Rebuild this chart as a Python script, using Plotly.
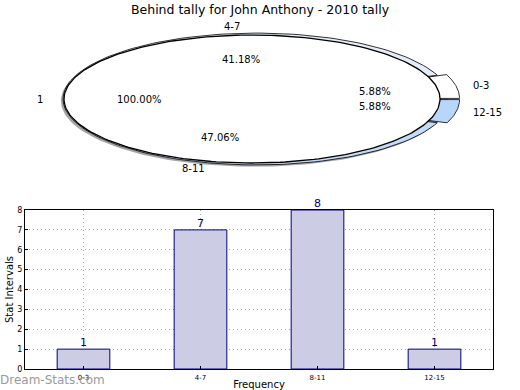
import numpy as np
import plotly.graph_objects as go

# ---------------- data ----------------
title_text = "Behind tally for John Anthony - 2010 tally"
categories = ["0-3", "4-7", "8-11", "12-15"]
frequency = [1, 7, 8, 1]
inner_labels = ["1"]
inner_values = [1]
explode = [0.05, 0.0, 0.0, 0.05]
ring_colors = ["#ffffff", "#e4ecfa", "#c4daf7", "#b8d5fa"]
y_ticks = [0, 1, 2, 3, 4, 5, 6, 7, 8]

# ---------------- pie geometry (pixel frame) ----------------
CX, CY, RX, RY = 252.0, 99.0, 188.0, 64.0
R_OUT = 1.03
RING_DX = 0.025  # outer ring centre nudged right (normalised units)
FONT = "DejaVu Sans, Verdana, sans-serif"


def to_px(u, v):
    return CX + RX * u, CY - RY * v


def wedge(t0, t1, r, dx=0.0, dy=0.0, n=80):
    t = np.linspace(t0, t1, n)
    u = np.concatenate([[dx], dx + r * np.cos(t), [dx]])
    v = np.concatenate([[dy], dy + r * np.sin(t), [dy]])
    return to_px(u, v)


fig = go.Figure()

# shadow
t = np.linspace(0, 2 * np.pi, 200)
sx, sy = to_px(RING_DX + R_OUT * np.cos(t), R_OUT * np.sin(t))
fig.add_trace(go.Scatter(x=sx - 2.2, y=sy + 1.8, mode="lines", fill="toself",
                         fillcolor="rgba(90,90,90,0.55)", line=dict(width=0),
                         xaxis="x2", yaxis="y2", hoverinfo="skip", showlegend=False))

total = float(sum(frequency))
fracs = [f / total for f in frequency]
annotations = []
start = 0.0
for lab, fr, ex, col in zip(categories, fracs, explode, ring_colors):
    t0 = start * 2 * np.pi
    t1 = (start + fr) * 2 * np.pi
    tm = 0.5 * (t0 + t1)
    dx, dy = ex * np.cos(tm), ex * np.sin(tm)
    wx, wy = wedge(t0, t1, R_OUT, dx + RING_DX, dy)
    fig.add_trace(go.Scatter(x=wx, y=wy, mode="lines", fill="toself", fillcolor=col,
                             line=dict(color="black", width=0.8),
                             xaxis="x2", yaxis="y2", hoverinfo="skip", showlegend=False))
    # labels
    lx, ly = to_px(dx + 1.1 * R_OUT * np.cos(tm), dy + 1.1 * R_OUT * np.sin(tm))
    c = np.cos(tm)
    anchor = "center" if abs(c) < 0.35 else ("left" if c > 0 else "right")
    annotations.append(dict(x=lx, y=ly, xref="x2", yref="y2", text=lab, showarrow=False,
                            xanchor=anchor, yanchor="middle",
                            font=dict(family=FONT, size=10, color="black")))
    px_, py_ = to_px(dx + 0.6 * R_OUT * np.cos(tm), dy + 0.6 * R_OUT * np.sin(tm))
    annotations.append(dict(x=px_, y=py_, xref="x2", yref="y2", text=f"{fr*100:.2f}%",
                            showarrow=False, xanchor="center", yanchor="middle",
                            font=dict(family=FONT, size=10, color="black")))
    start += fr

# inner pie
itotal = float(sum(inner_values))
start = 0.0
for lab, val in zip(inner_labels, inner_values):
    fr = val / itotal
    t0 = start * 2 * np.pi
    t1 = (start + fr) * 2 * np.pi
    tt = np.linspace(t0, t1, 240)
    ix, iy = to_px(np.cos(tt), np.sin(tt))
    fig.add_trace(go.Scatter(x=ix, y=iy, mode="lines", fill="toself", fillcolor="white",
                             line=dict(color="black", width=1.3),
                             xaxis="x2", yaxis="y2", hoverinfo="skip", showlegend=False))
    tm = np.pi if fr >= 0.999 else 0.5 * (t0 + t1)
    lx, ly = to_px(1.1 * np.cos(tm), 1.1 * np.sin(tm))
    annotations.append(dict(x=lx, y=ly, xref="x2", yref="y2", text=lab, showarrow=False,
                            xanchor="right", yanchor="middle",
                            font=dict(family=FONT, size=10, color="black")))
    px_, py_ = to_px(0.6 * np.cos(tm), 0.6 * np.sin(tm))
    annotations.append(dict(x=px_, y=py_, xref="x2", yref="y2", text=f"{fr*100:.2f}%",
                            showarrow=False, xanchor="center", yanchor="middle",
                            font=dict(family=FONT, size=10, color="black")))
    start += fr

# ---------------- bar chart ----------------
fig.add_trace(go.Bar(x=categories, y=frequency, width=0.45,
                     marker=dict(color="#ccccE5", line=dict(color="#000080", width=1)),
                     xaxis="x", yaxis="y", showlegend=False, hoverinfo="x+y"))

for cat, v in zip(categories, frequency):
    annotations.append(dict(x=cat, y=v, xref="x", yref="y", text=str(v), showarrow=False,
                            xanchor="center", yanchor="bottom", yshift=-2,
                            font=dict(family=FONT, size=11, color="#000080")))

annotations.append(dict(x=0, y=1 - 380 / 390, xref="paper", yref="paper",
                        text="Dream-Stats.com", showarrow=False,
                        xanchor="left", yanchor="middle", xshift=-2,
                        font=dict(family=FONT, size=12, color="#9a9a9a")))

grid = dict(showgrid=True, gridcolor="#a8a8a8", griddash="1px,3px", gridwidth=1)

fig.update_layout(
    width=520, height=390,
    margin=dict(l=0, r=0, t=0, b=0, autoexpand=False),
    paper_bgcolor="white", plot_bgcolor="white",
    title=dict(text=title_text, x=0.5, xanchor="center", y=1 - 10 / 390, yanchor="middle",
               automargin=False,
               font=dict(family=FONT, size=12.5, color="black")),
    xaxis=dict(domain=[25 / 520, 493 / 520], anchor="y", range=[-0.5, 3.5],
               automargin=False,
               showline=True, mirror=True, linecolor="black", linewidth=1, **grid,
               ticks="inside", ticklen=3, tickcolor="black", ticklabelstandoff=2,
               tickfont=dict(family=FONT, size=7, color="black"),
               title=dict(text="Frequency", font=dict(family=FONT, size=10, color="black"),
                          standoff=15)),
    yaxis=dict(domain=[1 - 369 / 390, 1 - 210 / 390], anchor="x", range=[0, 8],
               automargin=False,
               tickvals=y_ticks, showline=True, mirror=True, linecolor="black", linewidth=1,
               **grid, zeroline=False, ticks="inside", ticklen=3, tickcolor="black",
               tickfont=dict(family=FONT, size=8, color="black"),
               title=dict(text="Stat Intervals", font=dict(family=FONT, size=10, color="black"),
                          standoff=1)),
    xaxis2=dict(domain=[0, 1], anchor="y2", range=[0, 520], visible=False, fixedrange=True,
                automargin=False),
    yaxis2=dict(domain=[1 - 182 / 390, 1], anchor="x2", range=[182, 0], visible=False,
                fixedrange=True, automargin=False),
    annotations=annotations,
)

fig.write_html("out.html", config={"displayModeBar": False},
               post_script="document.body.style.margin='0';document.body.style.padding='0';")
